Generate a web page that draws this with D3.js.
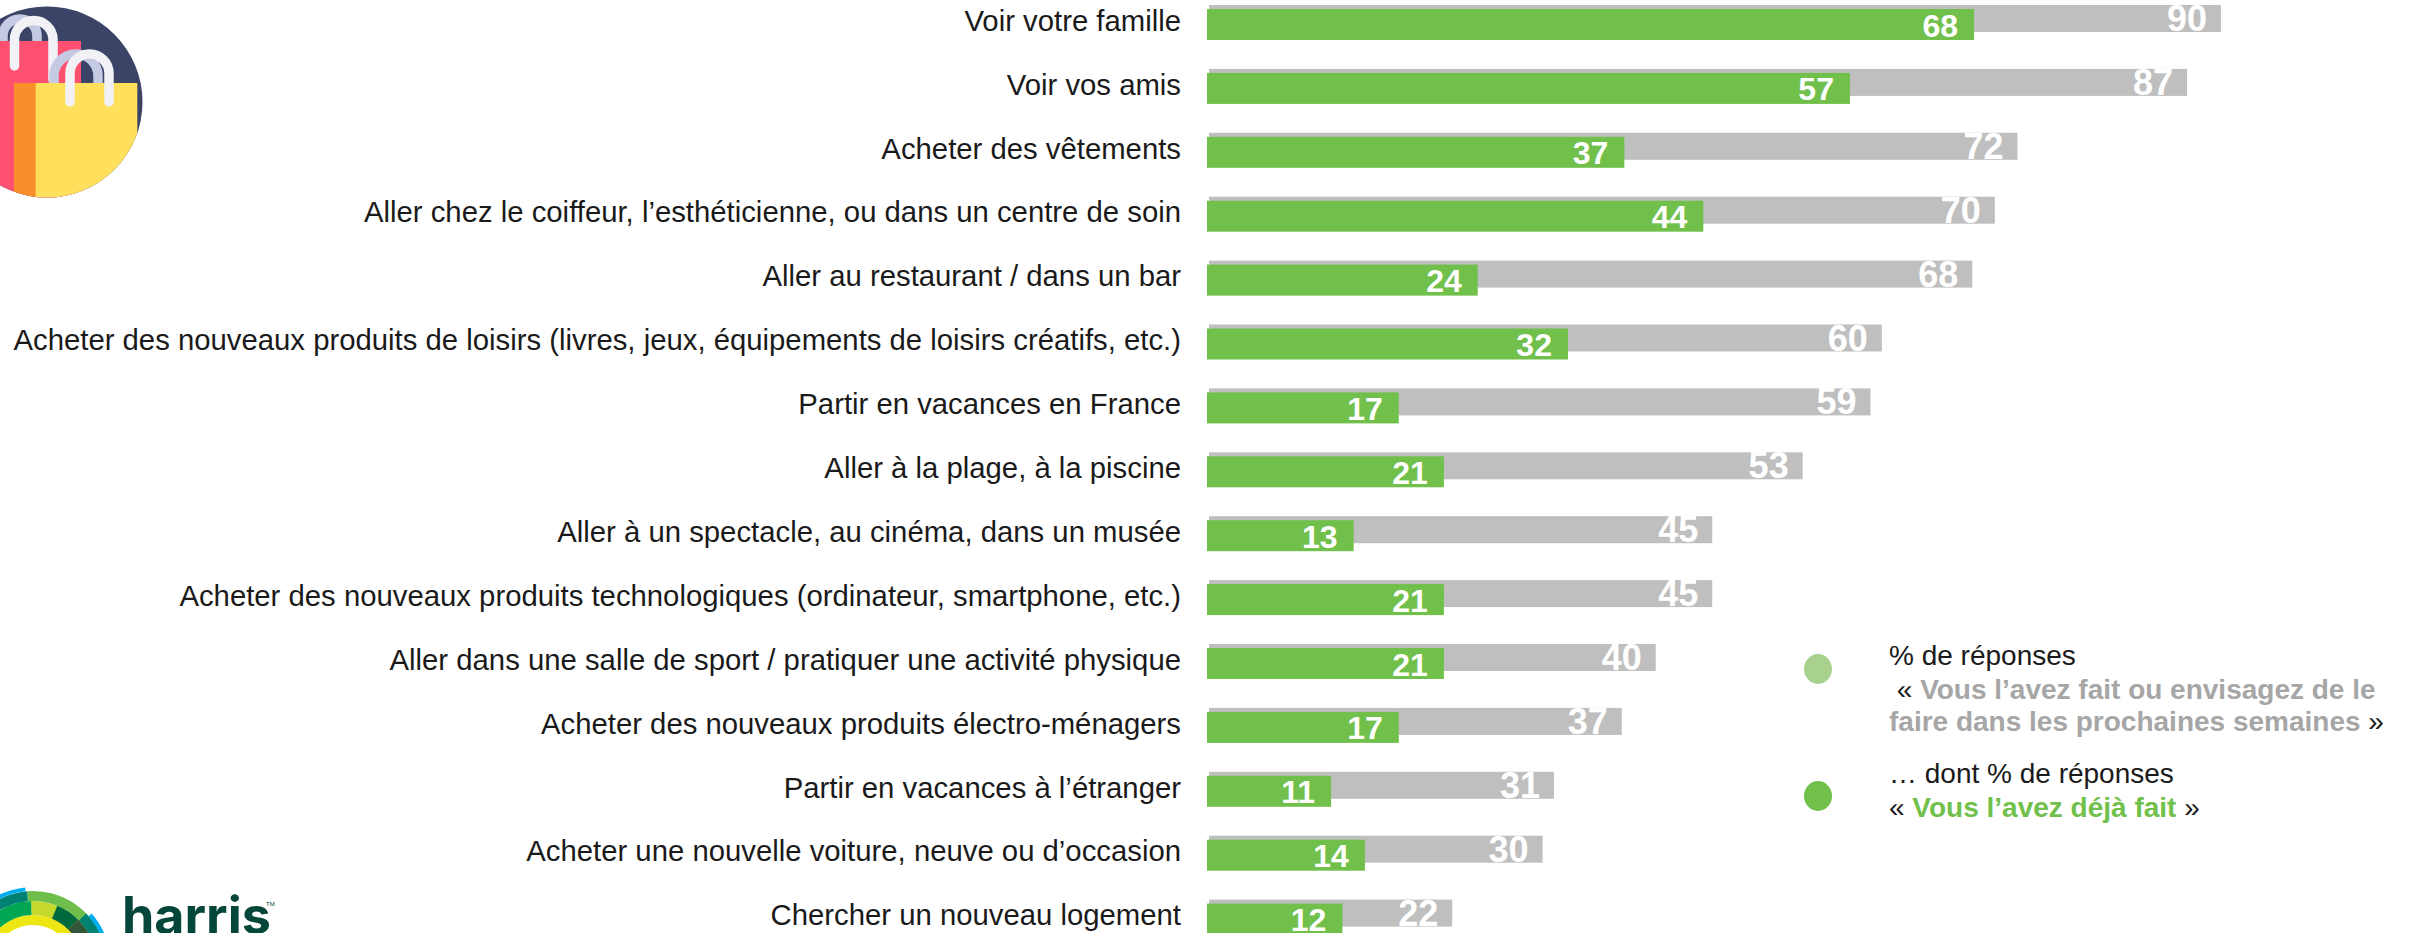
<!DOCTYPE html>
<html>
<head>
<meta charset="utf-8">
<script src="https://cdn.jsdelivr.net/npm/d3@7"></script>
<style>
    html, body { margin: 0; background: #fff; overflow: hidden; }
    text { font-family: "Liberation Sans", Arial, sans-serif; }
</style>
</head>
<body>
<div id="chart"></div>
<script>
const categories = [
    'Voir votre famille',
    'Voir vos amis',
    'Acheter des vêtements',
    'Aller chez le coiffeur, l’esthéticienne, ou dans un centre de soin',
    'Aller au restaurant / dans un bar',
    'Acheter des nouveaux produits de loisirs (livres, jeux, équipements de loisirs créatifs, etc.)',
    'Partir en vacances en France',
    'Aller à la plage, à la piscine',
    'Aller à un spectacle, au cinéma, dans un musée',
    'Acheter des nouveaux produits technologiques (ordinateur, smartphone, etc.)',
    'Aller dans une salle de sport / pratiquer une activité physique',
    'Acheter des nouveaux produits électro-ménagers',
    'Partir en vacances à l’étranger',
    'Acheter une nouvelle voiture, neuve ou d’occasion',
    'Chercher un nouveau logement'
];
const totalValues = [90, 87, 72, 70, 68, 60, 59, 53, 45, 45, 40, 37, 31, 30, 22];
const doneValues = [68, 57, 37, 44, 24, 32, 17, 21, 13, 21, 21, 17, 11, 14, 12];

const GREEN = '#70c04b';
const GREY = '#bfbfbf';

const width = 2412;
const height = 933;

const svg = d3.select('#chart').append('svg')
    .attr('width', width)
    .attr('height', height)
    .style('display', 'block');

// the two series don't line up exactly in the source, so each gets its own scale
const xDone = d3.scaleLinear().domain([0, 100]).range([0, 1128]);
const xTotal = d3.scaleLinear().domain([0, 100]).range([-5.5, 1125]);
const yScale = d3.scaleBand()
    .domain(categories)
    .range([3, 3 + 63.9 * categories.length])
    .paddingInner(0);

const rows = categories.map((c, i) => ({ category: c, total: totalValues[i], done: doneValues[i] }));

// category labels
const yAxis = d3.axisLeft(yScale).tickSize(0).tickPadding(0);
svg.append('g')
    .attr('transform', 'translate(1181,-13)')
    .call(yAxis)
    .call(g => g.select('.domain').remove())
    .call(g => g.selectAll('text')
        .attr('font-size', 29.3)
        .attr('font-family', '"Liberation Sans", Arial, sans-serif')
        .attr('fill', '#1a1a1a')
        .attr('dy', '0.3em'));

// grey bars
svg.append('g').selectAll('rect')
    .data(rows)
    .join('rect')
    .attr('x', 1209)
    .attr('y', d => yScale(d.category) + 2)
    .attr('width', d => xTotal(d.total))
    .attr('height', 27)
    .attr('fill', GREY);

svg.append('g').selectAll('text')
    .data(rows)
    .join('text')
    .attr('x', d => 1209 + xTotal(d.total) - 14)
    .attr('y', d => yScale(d.category) + 28)
    .attr('text-anchor', 'end')
    .attr('font-size', 36)
    .attr('font-weight', 700)
    .attr('fill', '#fff')
    .text(d => d.total);

// green bars
svg.append('g').selectAll('rect')
    .data(rows)
    .join('rect')
    .attr('x', 1207)
    .attr('y', d => yScale(d.category) + 6)
    .attr('width', d => xDone(d.done))
    .attr('height', 31)
    .attr('fill', GREEN);

svg.append('g').selectAll('text')
    .data(rows)
    .join('text')
    .attr('x', d => 1207 + xDone(d.done) - 16)
    .attr('y', d => yScale(d.category) + 33.5)
    .attr('text-anchor', 'end')
    .attr('font-size', 32)
    .attr('font-weight', 700)
    .attr('fill', '#fff')
    .text(d => d.done);

// legend
const legend = svg.append('g');
legend.append('ellipse').attr('cx', 1818).attr('cy', 669).attr('rx', 14).attr('ry', 15).attr('fill', '#a9d18e');
legend.append('ellipse').attr('cx', 1818).attr('cy', 796).attr('rx', 14).attr('ry', 15).attr('fill', GREEN);

const legendLines = [
    { y: 665, parts: [['% de réponses', '#1a1a1a', 400]] },
    { y: 699, parts: [['\u00a0« ', '#1a1a1a', 400], ['Vous l’avez fait ou envisagez de le', '#a6a6a6', 700]] },
    { y: 731, parts: [['faire dans les prochaines semaines', '#a6a6a6', 700], [' »', '#1a1a1a', 400]] },
    { y: 783, parts: [['… dont % de réponses', '#1a1a1a', 400]] },
    { y: 817, parts: [['« ', '#1a1a1a', 400], ['Vous l’avez déjà fait', GREEN, 700], [' »', '#1a1a1a', 400]] }
];
legendLines.forEach(line => {
    const t = legend.append('text')
        .attr('x', 1889)
        .attr('y', line.y)
        .attr('font-size', 28)
        .style('white-space', 'pre');
    line.parts.forEach(p => {
        t.append('tspan').attr('fill', p[1]).attr('font-weight', p[2]).text(p[0]);
    });
});

// shopping bags icon, top left
const icon = svg.append('g');
icon.append('clipPath').attr('id', 'iconClip')
    .append('circle').attr('cx', 47).attr('cy', 102).attr('r', 95.5);
const bag = icon.append('g').attr('clip-path', 'url(#iconClip)');
bag.append('rect').attr('x', -50).attr('y', 0).attr('width', 200).attr('height', 200).attr('fill', '#3b4466');

const handle = (d, color) => bag.append('path')
    .attr('d', d)
    .attr('fill', 'none')
    .attr('stroke', color)
    .attr('stroke-width', 9.5)
    .attr('stroke-linecap', 'round');

handle('M3,50 V36 A17,17 0 0 1 37,36 V50', '#c5cae3');
bag.append('rect').attr('x', -50).attr('y', 41).attr('width', 131).attr('height', 160).attr('fill', '#ff5070');
handle('M14.5,66 V38.5 A19.3,19.3 0 0 1 53,38.5 V80', '#f1f1f6');
handle('M54,90 V76 A22,22 0 0 1 98,76 V90', '#c5cae3');
bag.append('rect').attr('x', 14).attr('y', 83).attr('width', 22).attr('height', 120).attr('fill', '#f78f2b');
bag.append('rect').attr('x', 35.7).attr('y', 83).attr('width', 101.6).attr('height', 120).attr('fill', '#ffe05c');
handle('M70,102 V73.5 A19.5,19.5 0 0 1 109,73.5 V102', '#f1f1f6');

// harris logo, bottom left
const logo = svg.append('g').attr('transform', 'translate(33,965)');
const ring = (inner, outer, from, to, color) => logo.append('path')
    .attr('d', d3.arc()({ innerRadius: inner, outerRadius: outer, startAngle: from, endAngle: to }))
    .attr('fill', color);

ring(40, 50, -1.3, 1.3, '#eee613');
ring(50, 64, -0.03, 1.3, '#c5d92d');
ring(50, 64, -1.3, -0.03, '#00a651');
ring(64, 74, -0.08, 1.3, '#6fbe4b');
ring(64, 74, -1.0, -0.08, '#008272');
ring(74, 78, -1.0, -0.1, '#00aeef');
ring(50, 64, 0.39, 0.78, '#00693e');
ring(50, 64, 0.78, 1.3, '#33553a');
ring(64, 74, 0.8, 1.3, '#008272');
ring(74, 78, 0.85, 1.15, '#00aeef');

svg.append('text')
    .attr('x', 122)
    .attr('y', 934)
    .attr('font-size', 52)
    .style('font-family', 'Inter, sans-serif')
    .attr('font-weight', 700)
    .attr('fill', '#04473a')
    .text('harris');
svg.append('text')
    .attr('x', 266)
    .attr('y', 906)
    .attr('font-size', 6)
    .attr('fill', '#04473a')
    .text('TM');
</script>
</body>
</html>
